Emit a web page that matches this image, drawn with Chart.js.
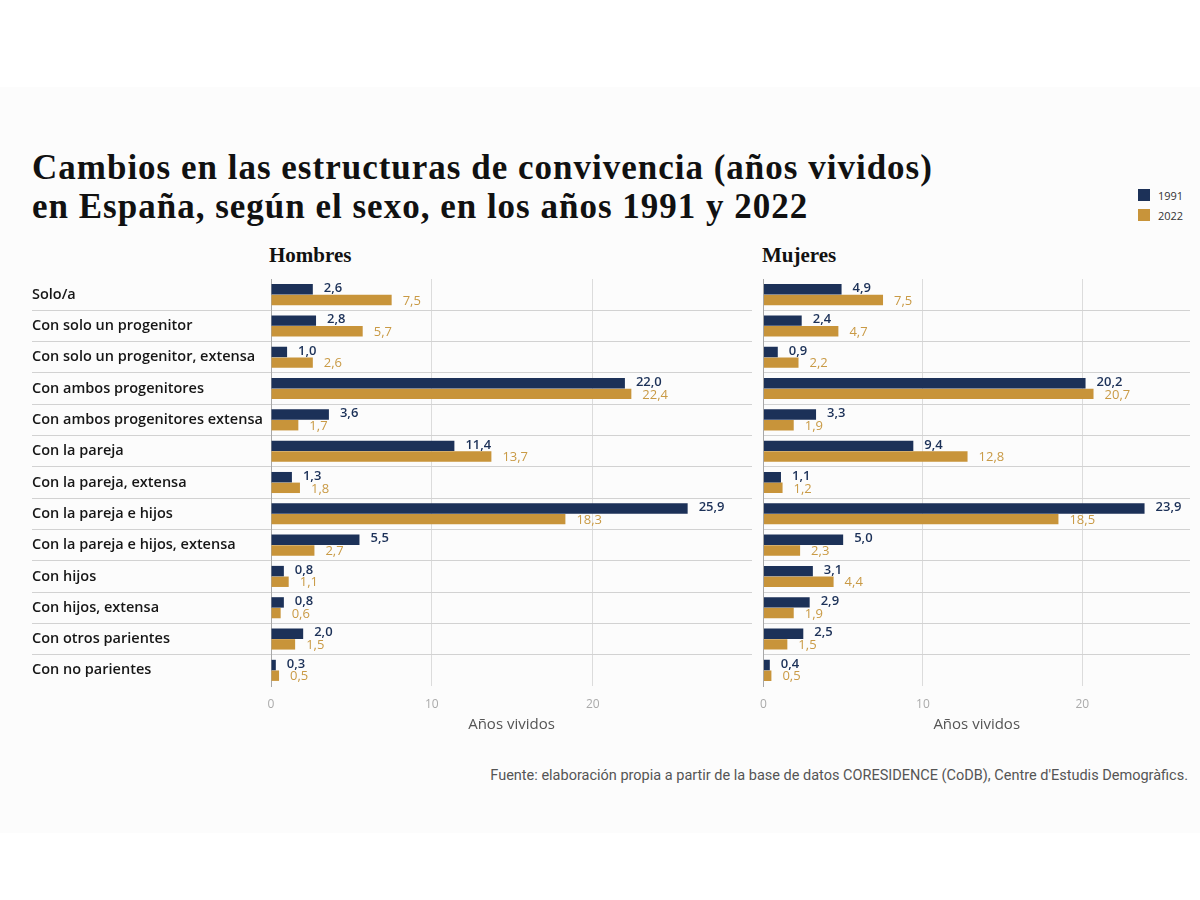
<!DOCTYPE html>
<html>
<head>
<meta charset="utf-8">
<script src="https://cdn.jsdelivr.net/npm/chart.js@4.4.0/dist/chart.umd.min.js"></script>
<style>
  html, body { margin: 0; padding: 0; background: #ffffff; }
  body { width: 1200px; height: 900px; position: relative; overflow: hidden; }
  #card { position: absolute; left: 0; top: 87px; width: 1200px; height: 746px; background: #fcfcfc; }
  #title { position: absolute; left: 32px; top: 148px; font-family: "Liberation Serif", serif; font-weight: bold; font-size: 35px; letter-spacing: 1px; line-height: 39px; color: #111; white-space: nowrap; }
  .panel-title { position: absolute; top: 243px; font-family: "Liberation Serif", serif; font-weight: bold; font-size: 21px; color: #111; }
  #legend { position: absolute; left: 1138px; top: 185px; font-family: "Open Sans", sans-serif; font-size: 11px; color: #333; }
  .lg { display: flex; align-items: center; height: 20px; }
  .sw { width: 12px; height: 12px; margin-right: 8px; }
  #source { position: absolute; right: 12px; top: 767px; font-family: Roboto, sans-serif; font-size: 14.5px; color: #555; white-space: nowrap; }
  canvas { position: absolute; }
</style>
</head>
<body>
<div id="card"></div>
<div id="title">Cambios en las estructuras de convivencia (años vividos)<br>en España, según el sexo, en los años 1991 y 2022</div>
<div class="panel-title" style="left:269px">Hombres</div>
<div class="panel-title" style="left:762px">Mujeres</div>
<div id="legend"></div>
<div id="source">Fuente: elaboración propia a partir de la base de datos CORESIDENCE (CoDB), Centre d'Estudis Demogràfics.</div>
<canvas id="men" style="left:0px;top:240px;width:760px;height:500px" width="760" height="500"></canvas>
<canvas id="women" style="left:749px;top:240px;width:451px;height:500px" width="451" height="500"></canvas>
<script>
const categories = [
  "Solo/a",
  "Con solo un progenitor",
  "Con solo un progenitor, extensa",
  "Con ambos progenitores",
  "Con ambos progenitores extensa",
  "Con la pareja",
  "Con la pareja, extensa",
  "Con la pareja e hijos",
  "Con la pareja e hijos, extensa",
  "Con hijos",
  "Con hijos, extensa",
  "Con otros parientes",
  "Con no parientes"
];
const seriesNames = ["1991", "2022"];
const men1991   = [2.6, 2.8, 1.0, 22.0, 3.6, 11.4, 1.3, 25.9, 5.5, 0.8, 0.8, 2.0, 0.3];
const men2022   = [7.5, 5.7, 2.6, 22.4, 1.7, 13.7, 1.8, 18.3, 2.7, 1.1, 0.6, 1.5, 0.5];
const women1991 = [4.9, 2.4, 0.9, 20.2, 3.3, 9.4, 1.1, 23.9, 5.0, 3.1, 2.9, 2.5, 0.4];
const women2022 = [7.5, 4.7, 2.2, 20.7, 1.9, 12.8, 1.2, 18.5, 2.3, 4.4, 1.9, 1.5, 0.5];
const xTickStep = 10;
const xTitle = "Años vividos";

const barColors = ["#1c3158", "#c8943a"];
const labelColors = ["#1c3158", "#c99a45"];

// legend
const legendEl = document.getElementById('legend');
seriesNames.forEach((n, i) => {
  const row = document.createElement('div'); row.className = 'lg';
  const sw = document.createElement('div'); sw.className = 'sw'; sw.style.background = barColors[i];
  const tx = document.createElement('span'); tx.textContent = n;
  row.appendChild(sw); row.appendChild(tx); legendEl.appendChild(row);
});

const valueLabels = {
  id: 'valueLabels',
  afterDatasetsDraw(chart) {
    const ctx = chart.ctx;
    ctx.save();
    chart.data.datasets.forEach((ds, di) => {
      const meta = chart.getDatasetMeta(di);
      ctx.fillStyle = labelColors[di];
      ctx.font = (di === 0 ? '600' : '400') + ' 13px "Open Sans", sans-serif';
      ctx.textAlign = 'left';
      ctx.textBaseline = 'middle';
      meta.data.forEach((el, i) => {
        const v = ds.data[i];
        ctx.fillText(v.toFixed(1).replace('.', ','), el.x + 11, el.y + (di === 0 ? -1 : 1));
      });
    });
    ctx.restore();
  }
};

function makeChart(id, d1991, d2022, showLabels, xMax, pad) {
  const n = categories.length;
  return new Chart(document.getElementById(id), {
    type: 'bar',
    data: {
      labels: categories,
      datasets: [
        { label: seriesNames[0], data: d1991, backgroundColor: barColors[0], categoryPercentage: 0.68, barPercentage: 0.98 },
        { label: seriesNames[1], data: d2022, backgroundColor: barColors[1], categoryPercentage: 0.68, barPercentage: 0.98 }
      ]
    },
    options: {
      indexAxis: 'y',
      responsive: false,
      animation: false,
      devicePixelRatio: 1,
      layout: { padding: pad },
      plugins: { legend: { display: false }, tooltip: { enabled: false } },
      scales: {
        x: {
          min: 0, max: xMax,
          afterBuildTicks: s => { s.ticks = s.ticks.filter(t => Math.abs(t.value % xTickStep) < 1e-9); },
          afterFit: s => { s.height = 50; },
          ticks: { stepSize: xTickStep, color: '#aaaaaa', padding: 11, font: { family: '"Open Sans", sans-serif', size: 12 } },
          grid: { color: '#dcdcdc', drawTicks: false },
          border: { display: false },
          title: { display: true, text: xTitle, color: '#555555', font: { family: '"Open Sans", sans-serif', size: 15 }, padding: { top: 0, bottom: 2 } }
        },
        y: {
          afterFit: s => { s.width = showLabels ? 239 : 0; },
          ticks: {
            display: showLabels, crossAlign: 'far', padding: 0,
            color: '#161616', font: { family: '"Open Sans", sans-serif', size: 14.5, weight: '600' }
          },
          grid: {
            offset: true,
            drawTicks: showLabels,
            tickLength: showLabels ? 239 : 0,
            color: c => (c.type !== 'tick' || c.index === 0 || c.index === undefined || c.index >= n) ? 'rgba(0,0,0,0)' : '#d2d2d2',
            lineWidth: 1
          },
          border: { display: true, color: '#a8a8a8', width: 1 }
        }
      }
    },
    plugins: [valueLabels]
  });
}

makeChart('men', men1991, men2022, true, 29.9, { left: 32, right: 8, top: 39, bottom: 4 });
makeChart('women', women1991, women2022, false, 26.75, { left: 2, right: 10, top: 39, bottom: 4 });
</script>
</body>
</html>
